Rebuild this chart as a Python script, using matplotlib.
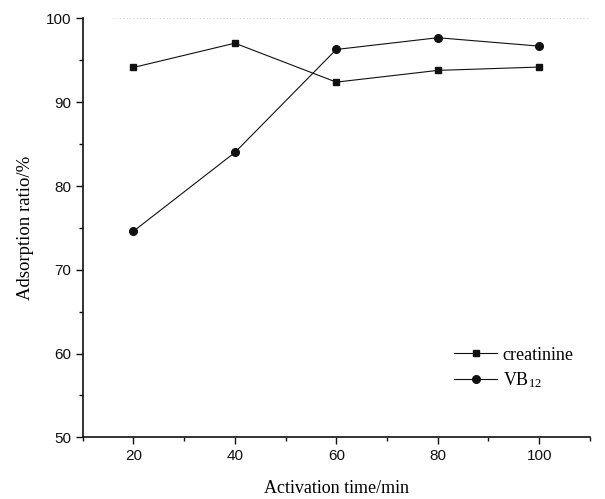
import numpy as np
import matplotlib
matplotlib.use("Agg")
import matplotlib.pyplot as plt
from matplotlib.ticker import MultipleLocator

plt.rcParams["mathtext.fontset"] = "custom"
plt.rcParams["mathtext.rm"] = "Liberation Serif"
plt.rcParams["mathtext.it"] = "Liberation Serif:italic"

# data
time_min = [20, 40, 60, 80, 100]
creatinine = [94.15, 97.05, 92.4, 93.8, 94.2]
vb12 = [74.6, 84.0, 96.3, 97.7, 96.7]

fig = plt.figure(figsize=(6.05, 4.99), dpi=100)
ax = fig.add_axes([0.1367, 0.1236, 0.8383, 0.8394])

ax.plot(time_min, creatinine, color="#111111", lw=0.8, marker="s",
        markersize=5, label="creatinine")
ax.plot(time_min, vb12, color="#111111", lw=0.8, marker="o",
        markersize=5.5, label=r"VB$_{\mathrm{12}}$")

# faint dotted trace along the top (scan artefact in the original)
ax.axhline(100, xmin=0.06, xmax=1.0, color="#bbbbbb", lw=0.6, ls=(0, (1, 3)))

ax.set_xlim(10, 110)
ax.set_ylim(50, 100)
ax.xaxis.set_major_locator(MultipleLocator(20))
ax.xaxis.set_minor_locator(MultipleLocator(10))
ax.yaxis.set_major_locator(MultipleLocator(10))
ax.yaxis.set_minor_locator(MultipleLocator(5))

for s in ["top", "right"]:
    ax.spines[s].set_visible(False)
for s in ["left", "bottom"]:
    ax.spines[s].set_linewidth(1.2)
    ax.spines[s].set_color("#111111")

ax.tick_params(which="major", direction="out", length=5, width=1.0,
               labelsize=11, colors="#111111")
ax.tick_params(which="minor", direction="out", length=3, width=1.0,
               colors="#111111")
for lab in ax.get_xticklabels() + ax.get_yticklabels():
    lab.set_family("Liberation Sans")

ax.set_xlabel("Activation time/min", family="Liberation Serif", fontsize=13,
              labelpad=12)
ax.set_ylabel("Adsorption ratio/%", family="Liberation Serif", fontsize=13.5,
              labelpad=8)

leg = ax.legend(loc="lower right", bbox_to_anchor=(1.0, 0.075), frameon=False,
                prop={"family": "Liberation Serif", "size": 13},
                handlelength=2.4, handletextpad=0.3, labelspacing=0.35)

plt.savefig("out.png", dpi=100)
